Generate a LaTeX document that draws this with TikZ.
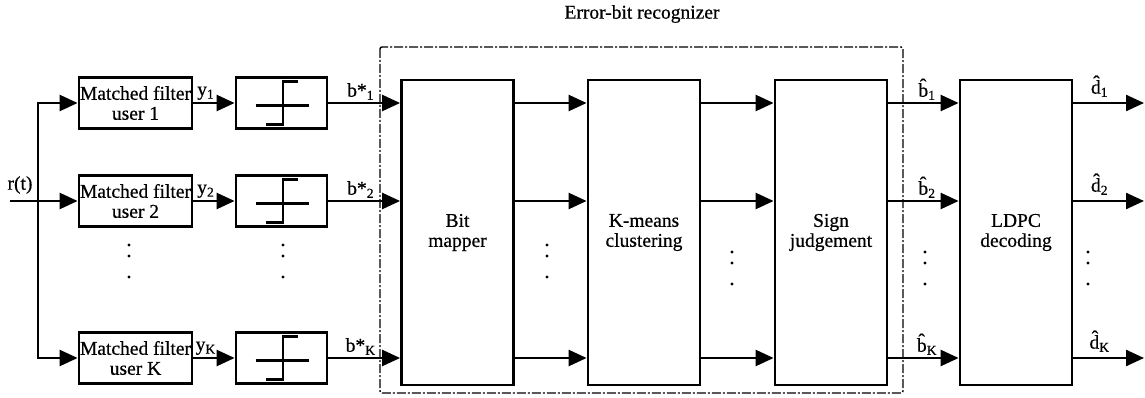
\documentclass[tikz,border=0pt]{standalone}
\usepackage{fontspec}
\setmainfont{Liberation Serif}[FakeBold=0.6]
\usetikzlibrary{positioning, calc, arrows.meta}

\tikzset{
    mfbox/.style={draw, line width=2.8pt, minimum width=113pt, minimum height=51pt, align=center, inner sep=0pt},
    qbox/.style={draw, line width=2.8pt, minimum width=91pt, minimum height=51pt, inner sep=0pt},
    blk/.style={draw, line width=2.8pt, minimum width=112pt, minimum height=305pt, align=center, inner sep=0pt},
    sig/.style={line width=2.4pt, -{Triangle[length=18pt,width=16pt]}},
    lbl/.style={above, inner sep=2pt},
    recog/.style={line width=1.4pt, dash pattern=on 9pt off 2pt on 2pt off 2pt, rounded corners=2pt},
}

\begin{document}
\begin{tikzpicture}[x=1pt, y=-1pt, font=\fontsize{19.5}{20}\selectfont]
    \useasboundingbox (0,0) rectangle (1145,398);

    % rows
    \coordinate (r1) at (0,103);
    \coordinate (r2) at (0,201);
    \coordinate (rK) at (0,358);

    % matched filters and sign quantizers
    \node[mfbox] (mf1) at (135.5,103) {Matched filter\\user 1};
    \node[mfbox] (mf2) at (135.5,201) {Matched filter\\user 2};
    \node[mfbox] (mfK) at (135.5,358) {Matched filter\\user K};
    \node[qbox] (q1) at (281.5,103) {};
    \node[qbox] (q2) at (281.5,201) {};
    \node[qbox] (qK) at (281.5,358) {};

    % big blocks
    \node[blk] (bm) at (457.5,232.5) {Bit\\mapper};
    \node[blk] (km) at (644,232.5) {K-means\\clustering};
    \node[blk] (sj) at (831,232.5) {Sign\\judgement};
    \node[blk] (ldpc) at (1016,232.5) {LDPC\\decoding};

    \draw[recog] (380,47) rectangle (903,393);
    \node (title) at (642,14) {Error-bit recognizer};

    % input
    \coordinate (in) at (10,201);
    \coordinate (split) at (38,201);
    \node (rt) at (20,185) {r(t)};
    \draw[sig] (in) -- (mf2);
    \draw[sig] (split) |- (mf1);
    \draw[sig] (split) |- (mfK);

    \foreach \r in {1,2,K}{
        \coordinate (out\r) at (1144,0 |- r\r);
        \draw[sig] (mf\r) -- node[lbl, pos=0.3]{y\textsubscript{\r}} (q\r);
        \draw[sig] (q\r) -- node[lbl, pos=0.45]{b*\textsubscript{\r}} (bm.west |- r\r);
        \draw[sig] (bm.east |- r\r) -- (km.west |- r\r);
        \draw[sig] (km.east |- r\r) -- (sj.west |- r\r);
        \draw[sig] (sj.east |- r\r) -- node[lbl, pos=0.55]{\^{b}\textsubscript{\r}} (ldpc.west |- r\r);
        \draw[sig] (ldpc.east |- r\r) -- node[lbl, pos=0.37, yshift=3pt]{\^{d}\textsubscript{\r}} (out\r);
        % sign symbol
        \draw[line width=2.2pt] ($(q\r.center)+(-26,2.5)$) -- ++(53,0);
        \draw[line width=2.2pt] ($(q\r.center)+(1.5,-23)$) -- ++(0,46);
        \draw[line width=3.5pt] ($(q\r.center)+(1.5,-21.5)$) -- ++(15,0);
        \draw[line width=3.5pt] ($(q\r.center)+(1.5,21.5)$) -- ++(-17,0);
    }

    % vertical dots
    \foreach \x/\y in {129/245, 283/245, 547/245, 732/252, 925/252, 1088/252}
        \foreach \d in {0,11,32}
            \fill (\x,\y+\d) circle[radius=1.7pt];
\end{tikzpicture}
\end{document}
